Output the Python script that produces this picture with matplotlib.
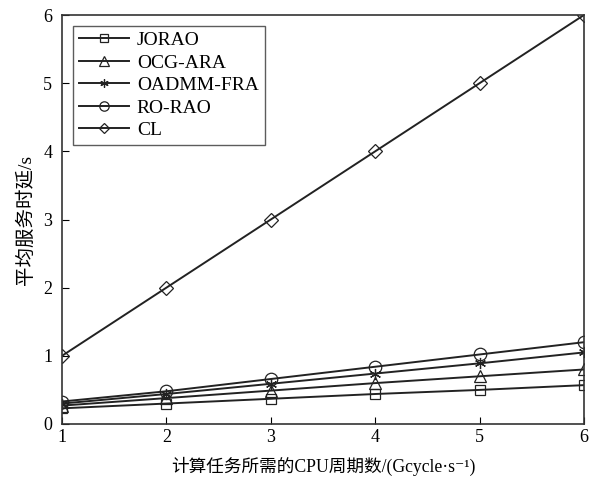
import numpy as np
import matplotlib
matplotlib.use("Agg")
import matplotlib.pyplot as plt

plt.rcParams['font.family'] = ['Liberation Serif', 'Noto Sans CJK SC', 'DejaVu Serif']

cycles = [1, 2, 3, 4, 5, 6]
jorao = [0.23, 0.30, 0.37, 0.44, 0.50, 0.57]
ocg_ara = [0.27, 0.38, 0.49, 0.60, 0.70, 0.80]
oadmm_fra = [0.30, 0.44, 0.59, 0.74, 0.89, 1.05]
ro_rao = [0.33, 0.48, 0.66, 0.84, 1.02, 1.20]
cl = [1.0, 2.0, 3.0, 4.0, 5.0, 6.0]

asterisk = (6, 2, 0)
series = [
    ("JORAO", jorao, "s", 7),
    ("OCG-ARA", ocg_ara, "^", 9),
    ("OADMM-FRA", oadmm_fra, asterisk, 8),
    ("RO-RAO", ro_rao, "o", 9),
    ("CL", cl, "D", 7),
]

fig = plt.figure(figsize=(5.89, 4.84), dpi=100)
ax = fig.add_axes([62 / 589, 60 / 484, 522 / 589, 409 / 484])

for name, vals, m, ms in series:
    ax.plot(cycles, vals, color="#222222", lw=1.4, marker=m,
            markersize=ms, markerfacecolor="none",
            markeredgecolor="#222222", markeredgewidth=0.9, label=name)

ax.set_xlim(1, 6)
ax.set_ylim(0, 6)
ax.set_xticks(cycles)
ax.set_yticks(range(0, 7))
ax.tick_params(direction="in", length=5, labelsize=13, width=0.8)
ax.tick_params(axis="y", pad=7)
for sp in ax.spines.values():
    sp.set_linewidth(1.2)
    sp.set_color("#333333")

ax.set_xlabel("计算任务所需的CPU周期数/(Gcycle·s⁻¹)", fontsize=12.7, labelpad=8)
ax.set_ylabel("平均服务时延/s", fontsize=14, labelpad=6)

leg = ax.legend(loc="upper left", fontsize=14, handlelength=2.6,
                frameon=True, fancybox=False, borderaxespad=0.55,
                labelspacing=0.25, handletextpad=0.4, borderpad=0.3,
                markerscale=0.75)
leg.get_frame().set_edgecolor("#333333")
leg.get_frame().set_linewidth(1.0)

fig.savefig("out.png", dpi=100)
